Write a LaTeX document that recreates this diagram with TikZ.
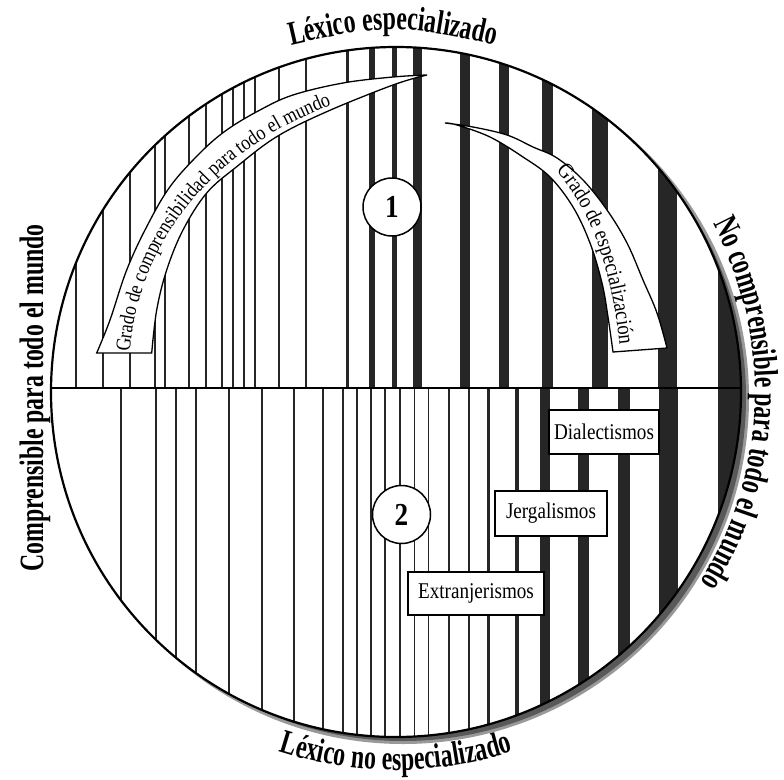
\documentclass[tikz,border=0pt]{standalone}
\usepackage{fontspec}
\setmainfont{Liberation Serif}[FakeStretch=0.85]
\newfontfamily\condfont{Liberation Serif}[FakeStretch=0.7]
\usetikzlibrary{decorations.text}
\newcommand\lblfont{\condfont\fontsize{34}{38}\selectfont\bfseries}
\newcommand\arrfontA{\fontsize{21}{24}\selectfont}
\newcommand\arrfontB{\fontsize{22}{25}\selectfont}
\newcommand\boxfont{\fontsize{22.5}{26}\selectfont}
\newcommand\numfont{\fontsize{32}{36}\selectfont\bfseries}
\tikzset{
  stripe/.style={fill=black!85},
  arrowband/.style={draw=black, line width=1.3pt, fill=white},
  labelbox/.style={draw=black, line width=1.4pt, fill=white, inner sep=0pt, font=\boxfont},
  numcirc/.style={circle, draw=black, line width=1.5pt, fill=white, inner sep=0pt, minimum size=58pt, font=\numfont},
}
\begin{document}
\begin{tikzpicture}[x=1pt,y=-1pt]
\useasboundingbox (0,0) rectangle (784,779);
\coordinate (C) at (396,392);
\coordinate (S) at (403,398);
% shadow and disc
\fill[black!40] (S) circle[radius=346];
\fill[black!65] (S) circle[radius=343];
\fill[white] (C) circle[radius=345];
\begin{scope}
\clip (C) circle[radius=345];
\foreach \c/\w in {76/1.3,103/1.3,130/1.3,155/1.3,165/1.3,189/1.3,206/1.3,222/1.3,233/1.3,244/1.3,255/1.3,279/1.8,306/2.2,347/3,372/5.5,394/5,417.5/9,465/10,504/10,547.5/11,600/16,667.5/19}
  \fill[stripe] ({\c-\w/2},388) rectangle ({\c+\w/2},40);
\foreach \c/\w in {121/1.3,156/1.3,176/1.3,196/1.3,229/1.3,262/1.3,294/1.3,323/1.3,343/1.3,357/1.3,371/1.3,385/1.3,400/1.5,414.5/1.8,428.5/1.8,449/2.2,469/2.5,488/3,516.5/4,545/10,583.5/11,624/12,668.5/19}
  \fill[stripe] ({\c-\w/2},388) rectangle ({\c+\w/2},745);
\fill[stripe] (718,40) rectangle (750,745);
\draw[line width=2.5pt] (40,388) -- (750,388);
\end{scope}
\draw[line width=2.2pt] (C) circle[radius=345];
% arrow 1
\draw[arrowband] plot[smooth, tension=0.6] coordinates {(96.7,353) (110,320) (126.7,270) (146.7,226.7) (170,186.7) (200,153) (226.7,130) (260,110) (293,95) (343,83) (393,77) (427,75)}
  -- plot[smooth, tension=0.6] coordinates {(427,75) (393,85) (326.7,111.7) (276.7,136.7) (236.7,166.7) (206.7,193) (183,230) (166.7,270) (156.7,310) (151.7,353)} -- cycle;
\path[decorate, decoration={text along path, text={|\arrfontA|Grado de comprensibilidad para todo el mundo}}]
  (130,352) .. controls (138,240) and (220,118) .. (420,80);
% arrow 2
\draw[arrowband] plot[smooth, tension=0.6] coordinates {(445,123) (473,127) (507,135) (533,147) (557,158) (583,180) (607,210) (627,243) (643,280) (657,313) (667,348)}
  -- plot[smooth, tension=0.6] coordinates {(613,352) (608,317) (602,283) (590,243) (573,207) (550,177) (523,157) (490,137) (457,125) (445,123)} -- cycle;
\path[decorate, decoration={text along path, text={|\arrfontB|Grado de especialización}}]
  (556,171) .. controls (596,215) and (616,285) .. (622,372);
% numbered circles
\node[numcirc] (n1) at (392,207) {1};
\node[numcirc] (n2) at (401.5,514.5) {2};
% boxes
\node[labelbox, minimum width=110pt, minimum height=44pt] (dial) at (604,432) {Dialectismos};
\node[labelbox, minimum width=112pt, minimum height=45pt] (jerg) at (551,513.5) {Jergalismos};
\node[labelbox, minimum width=136pt, minimum height=43pt] (extr) at (476,593.5) {Extranjerismos};
% outer labels
\path[decorate, decoration={text along path, text align=center, text={|\lblfont|Léxico especializado}}]
  (250,55) .. controls (393,21) .. (536,55);
\path[decorate, decoration={text along path, text align=center, text={|\lblfont|Léxico no especializado}}]
  (C) ++(120:378) arc[start angle=120, end angle=60, radius=378];
\path[decorate, decoration={text along path, text align=center, text={|\lblfont|No comprensible para todo el mundo}}]
  (C) ++(-41:359) arc[start angle=-41, end angle=45, radius=359];
\node[rotate=90, font=\lblfont, inner sep=0pt, anchor=base] (left) at (43,398) {Comprensible para todo el mundo};
\end{tikzpicture}
\end{document}
